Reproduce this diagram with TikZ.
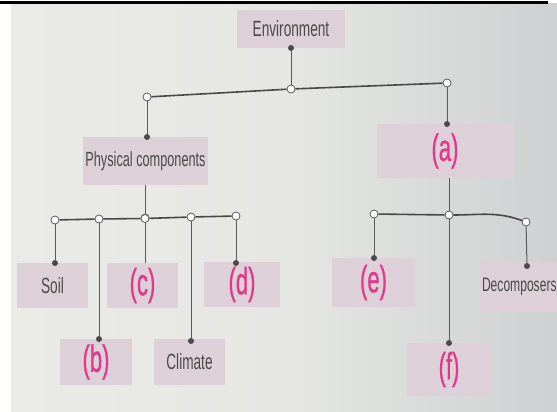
\documentclass[tikz,border=0pt]{standalone}
\usepackage{fontspec}
\setmainfont{Liberation Sans}[FakeStretch=0.62]
\newfontfamily\handfont{Liberation Sans}[FakeStretch=0.58,FakeBold=0.6]
\definecolor{bgl}{HTML}{EAEAE6}
\definecolor{bgm}{HTML}{E6E7E4}
\definecolor{bgr}{HTML}{CDD1D1}
\definecolor{boxfill}{HTML}{DDD0D8}
\definecolor{linec}{HTML}{5A5A5A}
\definecolor{dotc}{HTML}{4A4A4A}
\definecolor{txt}{HTML}{4A4A4A}
\definecolor{hand}{HTML}{E0388A}
\begin{document}
\begin{tikzpicture}[x=1pt,y=-1pt,
  box/.style={fill=boxfill, inner sep=0pt, text=txt, font=\fontsize{22}{22}\selectfont},
  handbox/.style={fill=boxfill, inner sep=0pt, text=hand, font=\handfont\fontsize{38}{38}\selectfont},
  jn/.style={circle, draw=linec, fill=white, line width=0.8pt, inner sep=0pt, minimum size=8pt},
  dot/.style={circle, fill=dotc, inner sep=0pt, minimum size=6pt},
  conn/.style={draw=linec, line width=1pt},
  bar/.style={draw=linec!80!black, line width=1.6pt}]
\useasboundingbox (0,0) rectangle (557,412);
% background
\fill[white] (0,0) rectangle (557,412);
\shade[left color=bgl, right color=bgr, middle color=bgm] (11,4) rectangle (557,412);
\draw[black, line width=3pt] (0,2.5) -- (548,2.5);

% boxes
\node[box, minimum width=108pt, minimum height=38pt] (env) at (291,29) {Environment};
\node[box, minimum width=125pt, minimum height=48pt, font=\fontsize{20.5}{20.5}\selectfont] (phys) at (145.5,161) {Physical components};
\node[handbox, minimum width=136pt, minimum height=54pt] (a) at (445,151) {(a)};
\node[box, minimum width=71pt, minimum height=45pt] (soil) at (52.5,285.5) {Soil};
\node[handbox, minimum width=72pt, minimum height=46pt] (b) at (96,362) {(b)};
\node[handbox, minimum width=71pt, minimum height=45pt] (c) at (142.5,285.5) {(c)};
\node[box, minimum width=71pt, minimum height=46pt] (clim) at (189.5,362) {Climate};
\node[handbox, minimum width=76pt, minimum height=45pt] (d) at (242,284.5) {(d)};
\node[handbox, minimum width=83pt, minimum height=49pt] (e) at (373.5,282.5) {(e)};
\node[handbox, minimum width=84pt, minimum height=53pt] (f) at (449,369.5) {(f)};
\node[box, minimum width=86pt, minimum height=50pt, text width=86pt, align=left, font=\fontsize{19.5}{19.5}\selectfont] (dec) at (523,287) {\hspace*{2pt}Decomposers};

% junctions
\node[jn] (J0) at (291,89) {};
\node[jn] (JL) at (147,97) {};
\node[jn] (JR) at (447,83) {};
\node[jn] (JP) at (145,218) {};
\node[jn] (S1) at (55,220) {};
\node[jn] (S2) at (99,219) {};
\node[jn] (S3) at (145,218.5) {};
\node[jn] (S4) at (191,217) {};
\node[jn] (S5) at (236,216) {};
\node[jn] (JA) at (449,215) {};
\node[jn] (E1) at (374,214) {};
\node[jn] (E3) at (526,222) {};

% dots
\node[dot] (dEnv) at (291,48) {};
\node[dot] (dPhys) at (147,137) {};
\node[dot] (dA) at (447,124) {};
\node[dot] (dSoil) at (55,263) {};
\node[dot] (dB) at (99,339) {};
\node[dot] (dClim) at (191,341) {};
\node[dot] (dD) at (236,263) {};
\node[dot] (dE) at (374,258) {};
\node[dot] (dF) at (449,343) {};
\node[dot] (dDec) at (527,266) {};
\coordinate (cTop) at (145,263);

% connectors
\draw[conn] (dEnv) -- (J0);
\draw[bar] (JL) -- (J0);
\draw[bar] (J0) -- (JR);
\draw[conn] (JL) -- (dPhys);
\draw[conn] (JR) -- (dA);
\draw[conn] (phys.south -| JP) -- (JP);
\draw[bar] (S1) -- (S2);
\draw[bar] (S2) -- (S3);
\draw[bar] (S3) -- (S4);
\draw[bar] (S4) -- (S5);
\draw[conn] (S1) -- (dSoil);
\draw[conn] (S2) -- (dB);
\draw[conn] (S3) -- (cTop);
\draw[conn] (S4) -- (dClim);
\draw[conn] (S5) -- (dD);
\draw[conn] (a.south -| JA) -- (JA);
\draw[bar] (E1) -- (JA);
\draw[bar] (JA) to[out=0, in=160] (E3);
\draw[conn] (E1) -- (dE);
\draw[conn] (JA) -- (dF);
\draw[conn] (E3) -- (dDec);
\end{tikzpicture}
\end{document}
